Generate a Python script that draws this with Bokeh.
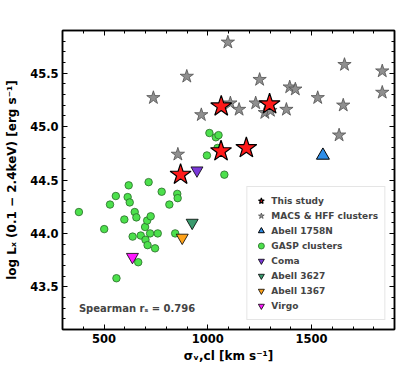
from bokeh.plotting import figure
from bokeh.models import (Legend, LegendItem, LinearAxis, Range1d,
                          SingleIntervalTicker, Label, PrintfTickFormatter)
from bokeh.embed import file_html
from bokeh.resources import INLINE

# ---------------- data ----------------
study_sigma = [869, 1065, 1298, 1064, 1186]
study_lx = [44.55, 45.19, 45.21, 44.77, 44.80]

macs_sigma = [738, 899, 969, 856, 1097, 1250, 1395, 1422, 1530, 1659, 1841, 1841,
              1109, 1151, 1231, 1275, 1302, 1379, 1653, 1633]
macs_lx = [45.27, 45.47, 45.11, 44.74, 45.79, 45.44, 45.37, 45.35, 45.27, 45.58, 45.52, 45.32,
           45.22, 45.16, 45.22, 45.13, 45.15, 45.16, 45.20, 44.92]

a1758_sigma = [1555]
a1758_lx = [44.73]

gasp_sigma = [379, 501, 529, 557, 560, 598, 614, 624, 619, 638, 648, 656, 665, 677,
              698, 700, 708, 710, 722, 725, 746, 759, 778, 815, 843, 853, 855, 715,
              996, 1008, 1039, 1052, 1047, 1080]
gasp_lx = [44.20, 44.04, 44.27, 44.35, 43.58, 44.13, 44.34, 44.29, 44.45, 43.97, 44.20, 44.15,
           43.73, 43.98, 44.06, 43.94, 44.12, 43.89, 44.00, 44.16, 43.86, 44.00, 44.39, 44.27,
           44.00, 44.37, 44.33, 44.48, 44.73, 44.94, 44.90, 44.92, 44.80, 44.55]

coma_sigma = [948]
coma_lx = [44.59]
a3627_sigma = [925]
a3627_lx = [44.10]
a1367_sigma = [877]
a1367_lx = [43.96]
virgo_sigma = [637]
virgo_lx = [43.78]

x_major_ticks = [500, 1000, 1500]
y_major_ticks = [43.5, 44.0, 44.5, 45.0, 45.5]
spearman_text = "Spearman rₛ = 0.796"

FONT = "DejaVu Sans"

p = figure(frame_width=332, frame_height=299, output_backend="svg", toolbar_location=None,
           x_range=Range1d(300, 1900), y_range=Range1d(43.1, 45.9),
           min_border_left=62, min_border_right=12, min_border_top=30, min_border_bottom=30,
           x_axis_label="σᵥ,cl [km s⁻¹]",
           y_axis_label="log Lₓ (0.1 − 2.4keV) [erg s⁻¹]")
p.xgrid.visible = False
p.ygrid.visible = False
p.outline_line_color = "black"
p.outline_line_width = 1.5
p.background_fill_color = "white"
p.border_fill_color = "white"

bottom_axis = p.xaxis[0]
left_axis = p.yaxis[0]

xt = SingleIntervalTicker(interval=500, num_minor_ticks=5)
yt = SingleIntervalTicker(interval=0.5, num_minor_ticks=5)
bottom_axis.ticker = xt
left_axis.ticker = yt
left_axis.formatter = PrintfTickFormatter(format="%.1f")

top_axis = LinearAxis(ticker=xt)
right_axis = LinearAxis(ticker=yt)
top_axis.major_label_overrides = {v: "" for v in x_major_ticks}
right_axis.major_label_overrides = {v: "" for v in y_major_ticks}
p.add_layout(top_axis, "above")
p.add_layout(right_axis, "right")

for ax in [bottom_axis, left_axis, top_axis, right_axis]:
    ax.major_tick_in = 5
    ax.major_tick_out = 0
    ax.minor_tick_in = 3
    ax.minor_tick_out = 0
    ax.major_tick_line_color = "black"
    ax.minor_tick_line_color = "black"
    ax.axis_line_color = "black"
    ax.axis_line_width = 1.5
    ax.major_label_text_font = FONT
    ax.major_label_text_font_style = "bold"
    ax.major_label_text_font_size = "11.5px"
    ax.major_label_text_color = "black"
    ax.axis_label_text_font = FONT
    ax.axis_label_text_font_style = "bold"
    ax.axis_label_text_font_size = "12px"
    ax.axis_label_text_color = "black"

top_axis.major_label_text_font_size = "0px"
right_axis.major_label_text_font_size = "0px"
top_axis.major_label_standoff = 0
right_axis.major_label_standoff = 0
bottom_axis.major_label_standoff = 4
left_axis.major_label_standoff = 4
bottom_axis.axis_label_standoff = 3
left_axis.axis_label_standoff = 8
left_axis.major_label_orientation = "horizontal"

r_macs = p.scatter(macs_sigma, macs_lx, marker="star", size=14, fill_color="#8f8f8f",
                   line_color="#505050", line_width=0.8)
r_gasp = p.scatter(gasp_sigma, gasp_lx, marker="circle", size=7.5, fill_color="#4ce04c",
                   line_color="#2a6a2a", line_width=0.8)
r_a1758 = p.scatter(a1758_sigma, a1758_lx, marker="triangle", size=13, fill_color="#2f8ee8",
                    line_color="black", line_width=1)
r_coma = p.scatter(coma_sigma, coma_lx, marker="inverted_triangle", size=12, fill_color="#7a38d8",
                   line_color="black", line_width=0.8)
r_a3627 = p.scatter(a3627_sigma, a3627_lx, marker="inverted_triangle", size=12, fill_color="#3a9a6e",
                    line_color="black", line_width=0.8)
r_a1367 = p.scatter(a1367_sigma, a1367_lx, marker="inverted_triangle", size=12, fill_color="#ffa31a",
                    line_color="black", line_width=0.8)
r_virgo = p.scatter(virgo_sigma, virgo_lx, marker="inverted_triangle", size=12, fill_color="#ff1aff",
                    line_color="black", line_width=0.8)
r_study = p.scatter(study_sigma, study_lx, marker="star", size=22, fill_color="#ff1a1a",
                    line_color="black", line_width=1.2)

legend = Legend(items=[
    LegendItem(label="This study", renderers=[r_study]),
    LegendItem(label="MACS & HFF clusters", renderers=[r_macs]),
    LegendItem(label="Abell 1758N", renderers=[r_a1758]),
    LegendItem(label="GASP clusters", renderers=[r_gasp]),
    LegendItem(label="Coma", renderers=[r_coma]),
    LegendItem(label="Abell 3627", renderers=[r_a3627]),
    LegendItem(label="Abell 1367", renderers=[r_a1367]),
    LegendItem(label="Virgo", renderers=[r_virgo]),
], location="bottom_right")
legend.label_text_font = FONT
legend.label_text_font_style = "bold"
legend.label_text_font_size = "9px"
legend.label_height = 15
legend.glyph_height = 15
legend.glyph_width = 15
legend.spacing = 0
legend.padding = 6
legend.margin = 9
legend.label_standoff = 3
legend.border_line_color = "#cccccc"
legend.border_line_width = 1
legend.background_fill_alpha = 0.9
p.add_layout(legend, "center")

lab = Label(x=379, y=43.30, text=spearman_text, text_font=FONT, text_font_style="bold",
            text_font_size="10px", text_baseline="middle", text_align="left")
p.add_layout(lab)

open("out.html", "w").write(file_html(p, INLINE))
